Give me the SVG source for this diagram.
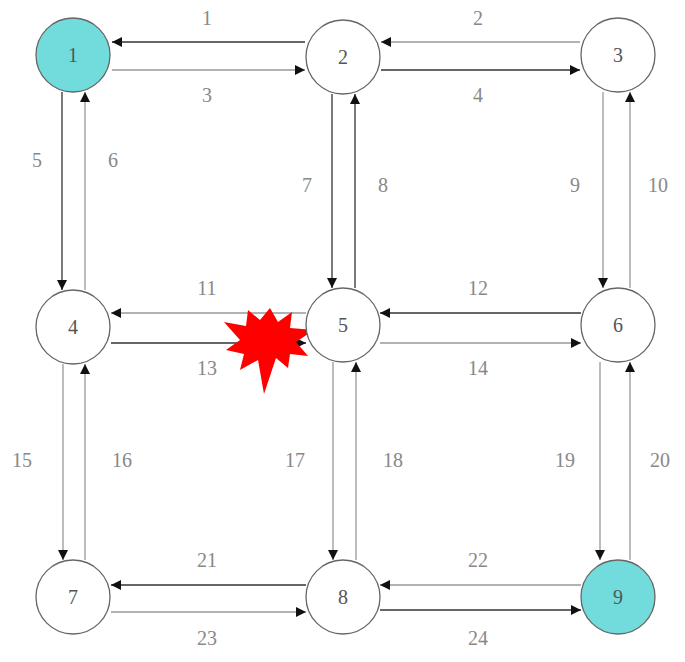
<svg xmlns="http://www.w3.org/2000/svg" width="685" height="662" viewBox="0 0 685 662">
<defs>
<marker id="a" viewBox="0 0 10 10" refX="10" refY="5" markerWidth="12" markerHeight="10" markerUnits="userSpaceOnUse" orient="auto"><path d="M0,0L10,5L0,10z" fill="#111"/></marker>
<style>
.n{fill:#fff;stroke:#666;stroke-width:1.3}
.c{fill:#72dcdc}
.e{stroke:#333;stroke-width:1.3;fill:none;marker-end:url(#a)}
.g{stroke:#999}
text{font-family:"Liberation Serif",serif;font-size:20px;fill:#888;text-anchor:middle}
.t{fill:#555}
</style>
</defs>
<rect width="685" height="662" fill="#fff"/>
<g id="connectors">
<path class="e" d="M305,42H112"/><path class="e g" d="M112,70H305"/>
<path class="e g" d="M580,42H381"/><path class="e" d="M381,70H580"/>
<path class="e" d="M62,92V290"/><path class="e g" d="M85,290V92"/>
<path class="e" d="M332,94V288"/><path class="e" d="M355,288V94"/>
<path class="e g" d="M603,92V288"/><path class="e g" d="M630,288V92"/>
<path class="e g" d="M306,313H111"/><path class="e" d="M111,343H306"/>
<path class="e" d="M581,313H380"/><path class="e g" d="M380,343H581"/>
<path class="e g" d="M63,364V560"/><path class="e g" d="M85,560V364"/>
<path class="e g" d="M333,362V560"/><path class="e g" d="M356,560V362"/>
<path class="e g" d="M600,362V560"/><path class="e g" d="M630,560V362"/>
<path class="e" d="M306,585H111"/><path class="e g" d="M111,612H306"/>
<path class="e g" d="M581,585H380"/><path class="e" d="M380,610H581"/>
</g>
<g id="star"><polygon fill="#f00" points="270,308 278,322 292,312 290,328 314,330 296,342 308,356 290,354 288,368 276,358 264,394 258,360 240,370 244,354 226,350 240,340 224,322 246,326 248,310 260,320"/></g>
<g id="n1"><circle class="n c" cx="73" cy="55" r="37"/><text class="t" x="73" y="62">1</text></g>
<g id="n2"><circle class="n" cx="343" cy="57" r="37"/><text class="t" x="343" y="64">2</text></g>
<g id="n3"><circle class="n" cx="618" cy="55" r="37"/><text class="t" x="618" y="62">3</text></g>
<g id="n4"><circle class="n" cx="73" cy="327" r="37"/><text class="t" x="73" y="334">4</text></g>
<g id="n5"><circle class="n" cx="343" cy="325" r="37"/><text class="t" x="343" y="332">5</text></g>
<g id="n6"><circle class="n" cx="618" cy="325" r="37"/><text class="t" x="618" y="332">6</text></g>
<g id="n7"><circle class="n" cx="73" cy="597" r="37"/><text class="t" x="73" y="604">7</text></g>
<g id="n8"><circle class="n" cx="343" cy="597" r="37"/><text class="t" x="343" y="604">8</text></g>
<g id="n9"><circle class="n c" cx="618" cy="597" r="37"/><text class="t" x="618" y="604">9</text></g>
<g id="labels">
<text x="207" y="25">1</text><text x="207" y="102">3</text><text x="478" y="25">2</text><text x="478" y="102">4</text>
<text x="37" y="167">5</text><text x="113" y="167">6</text><text x="307" y="192">7</text><text x="383" y="192">8</text>
<text x="575" y="192">9</text><text x="658" y="192">10</text>
<text x="207" y="295">11</text><text x="207" y="375">13</text><text x="478" y="295">12</text><text x="478" y="375">14</text>
<text x="22" y="467">15</text><text x="122" y="467">16</text><text x="295" y="467">17</text><text x="393" y="467">18</text>
<text x="565" y="467">19</text><text x="660" y="467">20</text>
<text x="207" y="567">21</text><text x="207" y="645">23</text><text x="478" y="567">22</text><text x="478" y="645">24</text>
</g>
</svg>
